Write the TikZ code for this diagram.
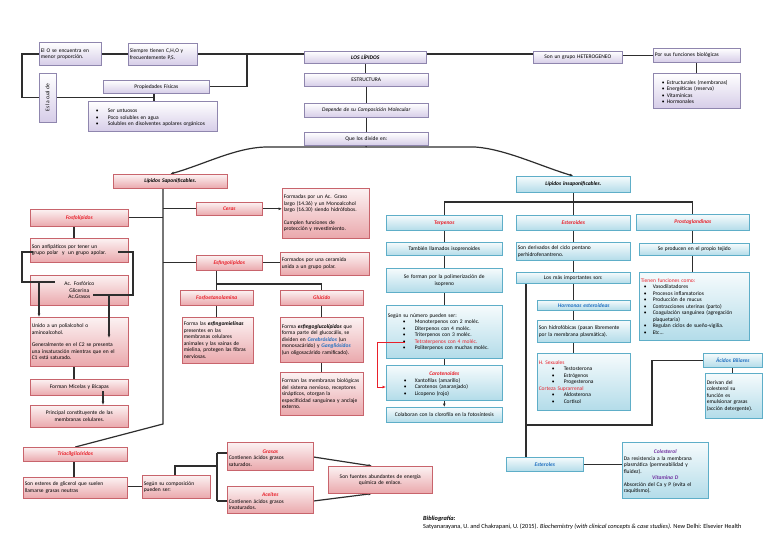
\documentclass[tikz,border=0pt]{standalone}
\usepackage{fontspec}
\setmainfont{Carlito}
\usetikzlibrary{shadows,arrows.meta}
\definecolor{tred}{HTML}{E8202A}
\definecolor{tblue}{HTML}{2070C0}
\definecolor{tpurp}{HTML}{7030A0}
\definecolor{lavB}{HTML}{8F86AE}
\definecolor{lavF}{HTML}{D6CDE8}
\definecolor{pinkB}{HTML}{C8646C}
\definecolor{pinkF}{HTML}{EAA8AC}
\definecolor{blueB}{HTML}{5EAEC8}
\definecolor{blueF}{HTML}{B3DCE9}
\definecolor{cnc}{HTML}{2E2E2E}
\newcommand\fs{\fontsize{5.5}{6.5}\selectfont}
\newcommand\rt[1]{\textcolor{tred}{\textbf{\textit{#1}}}}
\newcommand\bt[1]{\textcolor{tblue}{\textbf{\textit{#1}}}}
\newcommand\pu[1]{\textcolor{tpurp}{\textbf{\textit{#1}}}}
\newcommand\itm[3]{\par\noindent\hangindent=#2\hangafter=1\makebox[#2][l]{\hspace*{#1}\textbullet}#3}
\newcommand\ctr[1]{\par\noindent\makebox[\linewidth]{#1}}
\newcommand\bx[7]{\pgfmathsetmacro\bxw{#5-3}\node[#1,text width=\bxw pt,minimum height=#6pt] (#2) at (#3,#4) {#7};}
\pgfdeclarelayer{bgl}
\pgfdeclarelayer{lines}
\pgfsetlayers{bgl,lines,main}
\begin{document}
\begin{tikzpicture}[x=1pt,y=-1pt,
  every node/.style={font=\fs},
  base/.style={draw,line width=0.6pt,rectangle,anchor=north west,inner xsep=1.5pt,inner ysep=1pt,align=center,
    drop shadow={shadow xshift=0.8pt,shadow yshift=-0.8pt,opacity=0.25}},
  lav/.style={base,draw=lavB,top color=white,bottom color=lavF},
  pink/.style={base,draw=pinkB,top color=pinkF!15,bottom color=pinkF},
  blu/.style={base,draw=blueB,top color=blueF!12,bottom color=blueF},
  lft/.style={align=left},
  cn/.style={draw=cnc,line width=1.2pt},
  ar/.style={cn,-{Latex[length=3.5pt,width=3pt]}},
  rar/.style={draw=tred,line width=0.8pt,-{Latex[length=3.5pt,width=3pt]}}]
\begin{pgfonlayer}{bgl}
\fill[white] (0,0) rectangle (768,543);
\end{pgfonlayer}
\useasboundingbox (0,0) rectangle (768,543);
% ---------- top ----------
\bx{lav,lft}{A}{39}{42}{62}{23}{El O se encuentra en\\menor proporción.}
\bx{lav,lft}{B}{128}{43}{69}{22}{Siempre tienen C,H,O y\\frecuentemente P,S.}
\node[lav,anchor=center,rotate=90,minimum width=49pt,minimum height=17pt] (V) at (47.5,97.5) {Es la cual de};
\bx{lav}{PF}{103}{80}{106}{13}{Propiedades Físicas}
\bx{lav,lft}{PB}{88}{101}{129}{30}{\itm{6pt}{18pt}{Ser untuosos}\itm{6pt}{18pt}{Poco solubles en agua}\itm{6pt}{18pt}{Solubles en disolventes apolares orgánicos}}
\bx{lav}{L}{304}{51}{122}{12}{\textbf{\textit{LOS LÍPIDOS}}}
\bx{lav}{E}{304}{73}{124}{13}{ESTRUCTURA}
\bx{lav}{D}{304}{103}{124}{14}{\textit{Depende de su Composición Molecular}}
\bx{lav}{Q}{304}{132}{124}{13}{Que los divide en:}
\bx{lav}{H}{533}{51}{89}{12}{Son un grupo HETEROGENEO}
\bx{lav,lft}{F}{653}{48}{87}{14}{Por sus funciones biológicas}
\bx{lav,lft}{FB}{653}{73}{87}{35}{\itm{7pt}{12pt}{Estructurales (membranas)}\itm{7pt}{12pt}{Energéticas (reserva)}\itm{7pt}{12pt}{Vitamínicas}\itm{7pt}{12pt}{Hormonales}}
% ---------- saponificables ----------
\bx{pink}{LS}{113}{174}{114}{14}{\textbf{\textit{Lípidos Saponificables.}}}
\bx{pink}{Fo}{30}{209}{98}{17}{\rt{Fosfolípidos}}
\bx{pink,lft}{Fo1}{30}{238}{98}{24}{Son anfipáticos por tener un\\grupo polar\ \ y\ \ un grupo apolar.}
\bx{pink}{Fo2}{30}{275}{98}{30}{Ac. Fosfórico\\Glicerina\\Ac.Grasos}
\bx{pink,lft}{Fo3}{30}{317}{98}{49}{Unido a un polialcohol o\\aminoalcohol.\\[6pt]Generalmente en el C2 se presenta\\una insaturación mientras que en el\\C1 está saturado.}
\bx{pink}{Fo4}{30}{379}{98}{16}{Forman Micelas y Bicapas}
\bx{pink}{Fo5}{30}{405}{98}{22}{Principal constituyente de las\\membranas celulares.}
\bx{pink}{Ce}{196}{202}{66}{13}{\rt{Ceras}}
\bx{pink,lft}{Ce1}{282}{188}{87}{50}{Formadas por un Ac. Graso\\largo (14.36) y un Monoalcohol\\largo (16.30) siendo hidrófobos.\\[6pt]Cumplen funciones de\\protección y revestimiento.}
\bx{pink}{Es}{196}{255}{66}{15}{\rt{Esfingolípidos}}
\bx{pink,lft}{Es1}{280}{252}{89}{23}{Formados por una ceramida\\unida a un grupo polar.}
\bx{pink}{Fe}{180}{290}{73}{15}{\rt{Fosfoetanolamina}}
\bx{pink,lft}{Fe1}{182}{317}{71}{46}{Forma las \textbf{\textit{esfingomielinas}}\\presentes en las\\membranas celulares\\animales y las vainas de\\mielina, protegen las fibras\\nerviosas.}
\bx{pink}{Gl}{280}{290}{83}{15}{\rt{Glúcido}}
\bx{pink,lft}{Gl1}{280}{317}{83}{45}{Forma \textbf{\textit{esfingoglucolípidos}} que\\forma parte del glucocálix, se\\dividen en \bt{Cerebrósidos} (un\\monosacárido) y \bt{Gangliósidos}\\(un oligosacárido ramificado).}
\bx{pink,lft}{Gl2}{280}{372}{83}{43}{Forman las membranas biológicas\\del sistema nervioso, receptores\\sinápticos, otorgan la\\especificidad sanguínea y anclaje\\externo.}
\bx{pink}{Tr}{23}{447}{104}{14}{\rt{Triacilglicéridos}}
\bx{pink,lft}{Tr1}{23}{477}{104}{21}{Son esteres de glicerol que suelen\\llamarse grasas neutras}
\bx{pink,lft}{Tr2}{142}{475}{68}{23}{Según su composición\\pueden ser:}
\bx{pink,lft}{Gr}{227}{442}{86}{28}{\ctr{\rt{Grasas}}\par Contienen ácidos grasos\\saturados.}
\bx{pink,lft}{Ac}{227}{486}{86}{27}{\ctr{\rt{Aceites}}\par Contienen ácidos grasos\\insaturados.}
\bx{pink}{Fu}{328}{466}{104}{27}{Son fuentes abundantes de energía\\química de enlace.}
% ---------- insaponificables ----------
\bx{blu}{LI}{516}{176}{114}{16}{\textbf{\textit{Lípidos insaponificables.}}}
\bx{blu}{Te}{386}{215}{116}{15}{\rt{Terpenos}}
\bx{blu}{Te1}{386}{242}{116}{13}{También llamados isoprenoides}
\bx{blu}{Te2}{386}{268}{116}{24}{Se forman por la polimerización de\\isopreno}
\bx{blu,lft}{Te3}{386}{305}{116}{53}{Según su número pueden ser:\itm{15pt}{27pt}{Monoterpenos con 2 moléc.}\itm{15pt}{27pt}{Diterpenos con 4 moléc.}\itm{15pt}{27pt}{Triterpenos con 3 moléc.}\itm{15pt}{27pt}{\textcolor{tred}{Tetraterpenos con 4 moléc.}}\itm{15pt}{27pt}{Politerpenos con muchas moléc.}}
\bx{blu,lft}{Ca}{386}{365}{116}{35}{\ctr{\rt{Carotenoides}}\itm{16pt}{27pt}{Xantofilas (amarillo)}\itm{16pt}{27pt}{Carotenos (anaranjado)}\itm{16pt}{27pt}{Licopeno (rojo)}}
\bx{blu}{Co}{386}{407}{116}{15}{Colaboran con la clorofila en la fotosíntesis}
\bx{blu}{St}{516}{215}{114}{15}{\rt{Esteroides}}
\bx{blu,lft}{St1}{516}{242}{114}{18}{Son derivados del ciclo pentano\\perhidrofenantreno.}
\bx{blu}{St2}{516}{272}{114}{11}{Los más importantes son:}
\bx{blu}{Ho}{537}{300}{93}{10}{\bt{Hormonas esteroideas}}
\bx{blu,lft}{Ho1}{537}{320}{93}{22}{Son hidrofóbicas (pasan libremente\\por la membrana plasmática).}
\bx{blu,lft}{Ho2}{537}{353}{93}{57}{\textcolor{tred}{H. Sexuales}\itm{13pt}{25pt}{Testosterona}\itm{13pt}{25pt}{Estrógenos}\itm{13pt}{25pt}{Progesterona}\par\noindent\textcolor{tred}{Corteza Suprarrenal}\itm{13pt}{25pt}{Aldosterona}\itm{13pt}{25pt}{Cortisol}}
\bx{blu}{Pr}{636}{214}{113}{16}{\rt{Prostaglandinas}}
\bx{blu}{Pr1}{639}{243}{110}{12}{Se producen en el propio tejido}
\bx{blu,lft}{Pr2}{639}{272}{110}{68}{\textcolor{tred}{Tienen funciones como:}\itm{3pt}{12pt}{Vasodilatadores}\itm{3pt}{12pt}{Procesos inflamatorios}\itm{3pt}{12pt}{Producción de mucus}\itm{3pt}{12pt}{Contracciones uterinas (parto)}\itm{3pt}{12pt}{Coagulación sanguínea (agregación\hfill\break plaquetaria)}\itm{3pt}{12pt}{Regulan ciclos de sueño-vigilia.}\itm{3pt}{12pt}{Etc...}}
\bx{blu}{AB}{703}{353}{59}{14}{\bt{Ácidos Biliares}}
\bx{blu,lft}{AB1}{705}{373}{57}{45}{Derivan del\\colesterol su\\función es\\emulsionar grasas\\(acción detergente).}
\bx{blu}{Et}{506}{457}{77}{14}{\bt{Esteroles}}
\bx{blu,lft}{Cl}{622}{442}{86}{56}{\ctr{\pu{Colesterol}}\par Da resistencia a la membrana\\plasmática (permeabilidad y\\fluidez).\ctr{\pu{Vitamina D}}\par Absorción del Ca y P (evita el\\raquitismo).}
\node[anchor=north west,align=left,inner sep=0pt,font=\fontsize{6.3}{7.6}\selectfont] (Bib) at (423,516) {\textbf{\textit{Bibliografía:}}\\Satyanarayana, U. and Chakrapani, U. (2015). \textit{Biochemistry (with clinical concepts \& case studies)}. New Delhi: Elsevier Health};
% ---------- connectors (behind boxes) ----------
\begin{pgfonlayer}{lines}
\coordinate (j1) at (154,97.5);
\coordinate (j2) at (247,54);
\draw[cn] (A.west |- 0,54) -- (22,54) |- (j1);
\draw[cn] (A.east |- 0,54) -- (B.west |- 0,54);
\draw[cn] (B.east |- 0,54) -- (L.west |- 0,54);
\draw[cn] (j2) |- (PF.east);
\draw[cn] (PF.south -| j1) -- (PB.north -| j1);
\draw[cn] (L.east |- 0,54) -- (H.west |- 0,54);
\draw[cn] (H.east |- F.west) -- (F.west);
\draw[cn] (F.south) -- (FB.north -| F.south);
\draw[cn] (L.south) -- (E.north -| L.south);
\draw[cn] (E.south) -- (D.north);
\draw[cn] (D.south) -- (Q.north);
\coordinate (q0) at (366,147);
\draw[cn] (Q.south) -- (q0);
\draw[ar] (q0) -- (265,147) .. controls (235,148) and (205,164) .. (LS.north);
\draw[ar] (q0) -- (475,147) .. controls (505,149) and (540,166) .. (LI.north);
\coordinate (v1) at (163,424);
\draw[cn] (LS.south -| v1) -- (v1) -- (Tr.north);
\draw[cn] (Fo.east) -- (Fo.east -| v1);
\draw[cn] (v1 |- Ce.west) -- (Ce.west);
\draw[ar] (Ce.east) -- (Ce.east -| Ce1.west);
\draw[cn] (v1 |- Es.west) -- (Es.west);
\draw[cn] (Es.east) -- (Es.east -| Es1.west);
\draw[cn] (Fe.north |- Es.south) -- (Fe.north);
\draw[cn] (Fe.north |- 0,284) -| (Gl.north);
\draw[cn] (Fe.south) -- (Fe.south |- Fe1.north);
\draw[cn] (Gl.south) -- (Gl1.north);
\draw[cn] (Gl1.south) -- (Gl2.north);
\draw[cn] (Fo.south -| 74,0) -- (Fo1.north -| 74,0);
\draw[cn] (Fo3.south -| 74,0) -- (Fo4.north -| 74,0);
\draw[cn] (Tr.south -| 74,0) -- (Tr1.north -| 74,0);
\draw[cn] (Tr1.east |- Tr2.west) -- (Tr2.west);
\coordinate (g0) at (217,466);
\draw[cn] (Tr2.north -| 175,0) |- (g0);
\draw[cn] (217,453) -- (217,501);
\draw[cn] (217,453) -- (Gr.west |- 0,453);
\draw[cn] (217,501) -- (Ac.west |- 0,501);
\draw[ar] (Gr.east |- 0,457) -- (Fu.north -| 372,0);
\draw[ar] (Ac.east |- 0,501) -- (Fu.south -| 372,0);
\draw[cn] (LI.south) -- (LI.south |- 0,202);
\draw[cn] (Te.north |- 0,202) -- (Pr.north |- 0,202);
\draw[cn] (Te.north |- 0,202) -- (Te.north);
\draw[cn] (St.north |- 0,202) -- (St.north);
\draw[cn] (Pr.north |- 0,202) -- (Pr.north);
\draw[cn] (Te.south) -- (Te1.north);
\draw[cn] (Te1.south) -- (Te2.north);
\draw[cn] (Te2.south) -- (Te3.north);
\draw[cn] (Te3.south) -- (Ca.north);
\draw[ar] (Ca.south) -- (Co.north);
\draw[cn] (St.south) -- (St1.north);
\draw[cn] (St1.south) -- (St2.north);
\draw[cn] (St2.south) -- (St2.south |- Ho.north);
\draw[cn] (Ho.south -| St2.south) -- (Ho1.north -| St2.south);
\draw[cn] (Ho1.south -| St2.south) -- (Ho2.north -| St2.south);
\draw[cn] (St2.south -| 526,0) -- (Et.north -| 526,0);
\draw[cn] (526,425) -- (652,425) |- (AB.west);
\draw[cn] (AB.south) -- (AB1.north -| AB.south);
\draw[cn] (Et.east) -- (Et.east -| Cl.west);
\draw[cn] (Pr.south) -- (Pr1.north -| Pr.south);
\draw[cn] (Pr1.south -| Pr.south) -- (Pr2.north -| Pr.south);
\end{pgfonlayer}
% ---------- connectors drawn over boxes ----------
\coordinate (b1) at (33,252); \coordinate (b2) at (55,282);
\coordinate (b3) at (118,252); \coordinate (b4) at (93,295);
\draw[cn] (b1) -- (22,252) |- (b2);
\draw[cn] (b3) -- (133,252) |- (b4);
\draw[ar] (39,282) -- (Fo3.north -| 39,0);
\draw[ar] (109,295) -- (109,338);
\draw[ar] (103,391) -- (Fo5.north -| 103,0);
\draw[rar] (405,342) -- (377,342) |- (Ca.west |- 0,387);
\end{tikzpicture}
\end{document}
